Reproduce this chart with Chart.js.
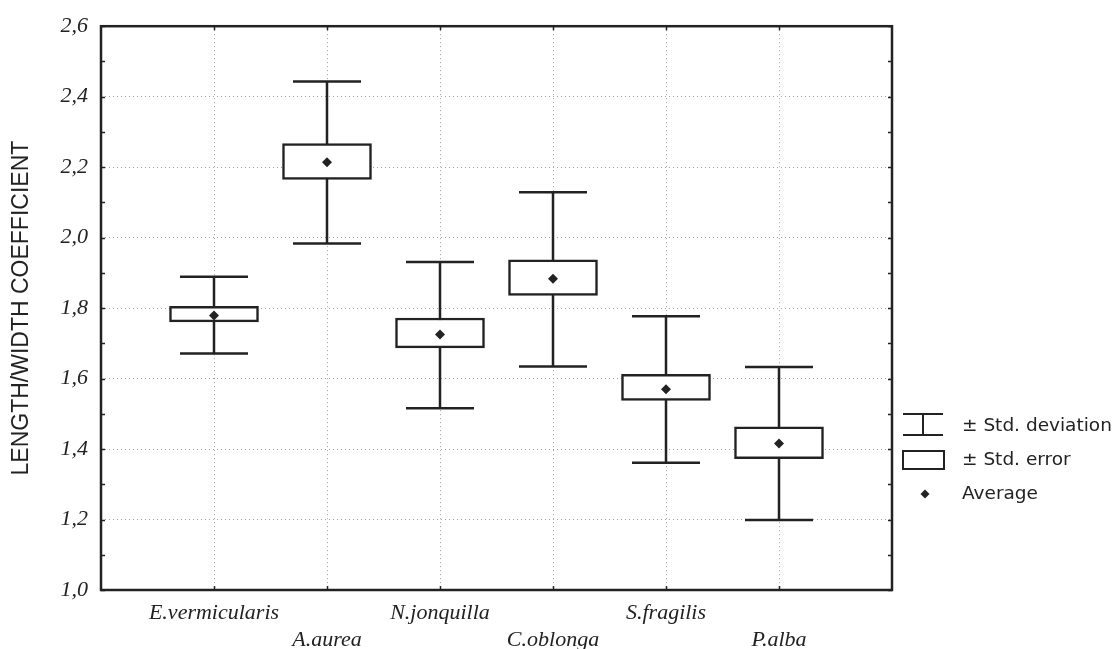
<!DOCTYPE html>
<html>
<head>
<meta charset="utf-8">
<script src="https://cdn.jsdelivr.net/npm/chart.js@4/dist/chart.umd.min.js"></script>
<style>
  html, body { margin: 0; padding: 0; background: #fff; }
  #wrap { width: 1118px; height: 649px; position: relative; }
</style>
</head>
<body>
<div id="wrap"><canvas id="c"></canvas></div>
<script>
// ---- data ----
const categories = ['E.vermicularis', 'A.aurea', 'N.jonquilla', 'C.oblonga', 'S.fragilis', 'P.alba'];
const means  = [1.779, 2.214, 1.725, 1.883, 1.570, 1.416];
const seLow  = [1.761, 2.165, 1.687, 1.836, 1.538, 1.373];
const seHigh = [1.805, 2.267, 1.772, 1.937, 1.612, 1.463];
const sdLow  = [1.671, 1.983, 1.516, 1.634, 1.361, 1.199];
const sdHigh = [1.889, 2.443, 1.931, 2.129, 1.777, 1.633];
const yTickValues = [1.0, 1.2, 1.4, 1.6, 1.8, 2.0, 2.2, 2.4, 2.6];
const yTickLabels = ['1,0', '1,2', '1,4', '1,6', '1,8', '2,0', '2,2', '2,4', '2,6'];
const legendLabels = ['\u00B1 Std. deviation', '\u00B1 Std. error', 'Average'];
const yTitle = 'LENGTH/WIDTH COEFFICIENT';

const INK = '#222';
const positions = categories.map((_, i) => i + 1);

const boxData = positions.map((x, i) => ({ x: x, y: [seLow[i], seHigh[i]] }));
const meanData = positions.map((x, i) => ({ x: x, y: means[i] }));

const statPlugin = {
  id: 'stat',
  beforeDatasetsDraw(chart) {
    const ctx = chart.ctx;
    const xs = chart.scales.x, ys = chart.scales.y;
    ctx.save();
    ctx.strokeStyle = INK;
    ctx.lineWidth = 2.5;
    positions.forEach((p, i) => {
      const x = Math.round(xs.getPixelForValue(p));
      const yt = ys.getPixelForValue(sdHigh[i]);
      const yb = ys.getPixelForValue(sdLow[i]);
      ctx.beginPath();
      ctx.moveTo(x, yt); ctx.lineTo(x, yb);
      ctx.moveTo(x - 34, yt); ctx.lineTo(x + 34, yt);
      ctx.moveTo(x - 34, yb); ctx.lineTo(x + 34, yb);
      ctx.stroke();
    });
    ctx.restore();
  },
  afterDatasetsDraw(chart) {
    const ctx = chart.ctx;
    const a = chart.chartArea;
    const xs = chart.scales.x, ys = chart.scales.y;
    ctx.save();
    // inward tick marks
    ctx.strokeStyle = INK;
    ctx.lineWidth = 1.5;
    ctx.beginPath();
    for (let k = 10; k <= 26; k++) {
      const y = Math.round(ys.getPixelForValue(k / 10)) + 0.5;
      ctx.moveTo(a.left, y); ctx.lineTo(a.left + 4, y);
      ctx.moveTo(a.right, y); ctx.lineTo(a.right - 4, y);
    }
    positions.forEach(p => {
      const x = Math.round(xs.getPixelForValue(p)) + 0.5;
      ctx.moveTo(x, a.bottom); ctx.lineTo(x, a.bottom - 4);
      ctx.moveTo(x, a.top); ctx.lineTo(x, a.top + 4);
    });
    ctx.stroke();
    // frame
    ctx.lineWidth = 2.5;
    ctx.strokeRect(a.left, a.top, a.right - a.left, a.bottom - a.top);

    // legend
    const lx = a.right + 11;
    ctx.lineWidth = 2;
    ctx.beginPath();
    ctx.moveTo(lx, 414); ctx.lineTo(lx + 40, 414);
    ctx.moveTo(lx, 435); ctx.lineTo(lx + 40, 435);
    ctx.moveTo(lx + 20, 414); ctx.lineTo(lx + 20, 435);
    ctx.stroke();
    ctx.strokeRect(lx, 451, 41, 18);
    ctx.fillStyle = INK;
    ctx.beginPath();
    const dx = lx + 22, dy = 494;
    ctx.moveTo(dx, dy - 4.5); ctx.lineTo(dx + 4.5, dy); ctx.lineTo(dx, dy + 4.5); ctx.lineTo(dx - 4.5, dy);
    ctx.closePath(); ctx.fill();

    ctx.font = '18.5px "DejaVu Sans"';
    ctx.textBaseline = 'middle';
    ctx.textAlign = 'left';
    const tx = a.right + 70;
    ctx.fillText(legendLabels[0], tx, 426);
    ctx.fillText(legendLabels[1], tx, 460);
    ctx.fillText(legendLabels[2], tx, 494);
    ctx.restore();
  }
};

new Chart(document.getElementById('c'), {
  type: 'bar',
  data: {
    datasets: [
      {
        type: 'scatter',
        label: 'Average',
        data: meanData,
        pointStyle: 'rectRot',
        pointRadius: 5,
        pointHoverRadius: 5,
        backgroundColor: INK,
        borderColor: INK,
        borderWidth: 0,
        order: 0
      },
      {
        type: 'bar',
        label: 'Std. error',
        data: boxData,
        backgroundColor: '#ffffff',
        borderColor: INK,
        borderWidth: 2.5,
        borderSkipped: false,
        barThickness: 89,
        grouped: false,
        order: 1
      }
    ]
  },
  options: {
    responsive: true,
    maintainAspectRatio: false,
    animation: false,
    events: [],
    layout: { padding: { top: 22, right: 226, left: 0, bottom: 0 } },
    plugins: { legend: { display: false }, tooltip: { enabled: false } },
    scales: {
      x: {
        type: 'linear',
        min: 0,
        max: 7,
        offset: false,
        afterBuildTicks: s => { s.ticks = positions.map(v => ({ value: v })); },
        afterFit: s => { s.height = 59; },
        grid: { color: '#a0a0a0', lineWidth: 1, drawTicks: false, offset: false },
        border: { display: false, dash: [1, 3] },
        ticks: {
          autoSkip: false,
          maxRotation: 0,
          minRotation: 0,
          padding: 10,
          color: INK,
          font: { family: '"Liberation Serif"', style: 'italic', size: 22, lineHeight: 1.23 },
          callback: (v, i) => (i % 2 === 0 ? [categories[i]] : ['', categories[i]])
        }
      },
      y: {
        type: 'linear',
        min: 1.0,
        max: 2.6,
        afterBuildTicks: s => { s.ticks = yTickValues.map(v => ({ value: v })); },
        afterFit: s => { s.width = 101; },
        grid: { color: '#a0a0a0', lineWidth: 1, drawTicks: false },
        border: { display: false, dash: [1, 3] },
        ticks: {
          padding: 13,
          color: INK,
          font: { family: '"Liberation Serif"', style: 'italic', size: 22 },
          callback: (v, i) => yTickLabels[i]
        },
        title: {
          display: true,
          text: yTitle,
          color: INK,
          padding: { top: 8, bottom: 0 },
          font: { family: '"Liberation Sans"', size: 23, weight: 'normal' }
        }
      }
    }
  },
  plugins: [statPlugin]
});
</script>
</body>
</html>
